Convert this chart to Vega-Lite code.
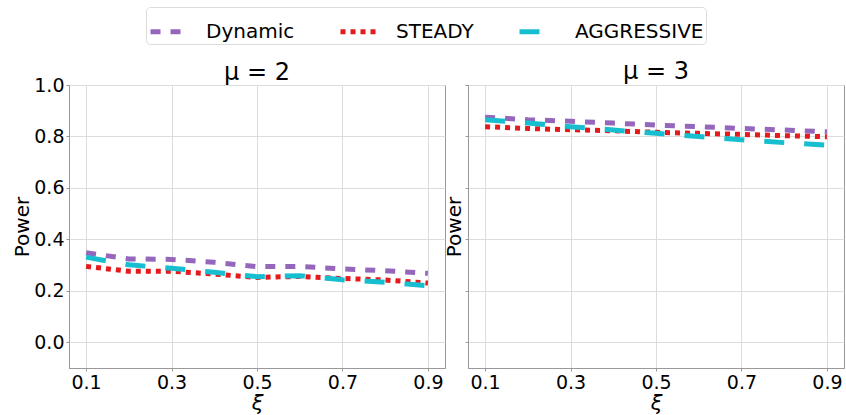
{
  "$schema": "https://vega.github.io/schema/vega-lite/v6.json",
  "padding": {"left": 12, "top": 6, "right": 0, "bottom": 0},
  "background": "white",
  "data": {"values": [
    {"mu": 2, "method": "Dynamic", "xi": 0.1, "power": 0.348},
    {"mu": 2, "method": "Dynamic", "xi": 0.2, "power": 0.324},
    {"mu": 2, "method": "Dynamic", "xi": 0.3, "power": 0.322},
    {"mu": 2, "method": "Dynamic", "xi": 0.4, "power": 0.311},
    {"mu": 2, "method": "Dynamic", "xi": 0.5, "power": 0.294},
    {"mu": 2, "method": "Dynamic", "xi": 0.6, "power": 0.295},
    {"mu": 2, "method": "Dynamic", "xi": 0.7, "power": 0.285},
    {"mu": 2, "method": "Dynamic", "xi": 0.8, "power": 0.278},
    {"mu": 2, "method": "Dynamic", "xi": 0.9, "power": 0.268},
    {"mu": 2, "method": "STEADY", "xi": 0.1, "power": 0.295},
    {"mu": 2, "method": "STEADY", "xi": 0.2, "power": 0.276},
    {"mu": 2, "method": "STEADY", "xi": 0.3, "power": 0.276},
    {"mu": 2, "method": "STEADY", "xi": 0.4, "power": 0.265},
    {"mu": 2, "method": "STEADY", "xi": 0.5, "power": 0.252},
    {"mu": 2, "method": "STEADY", "xi": 0.6, "power": 0.256},
    {"mu": 2, "method": "STEADY", "xi": 0.7, "power": 0.248},
    {"mu": 2, "method": "STEADY", "xi": 0.8, "power": 0.242},
    {"mu": 2, "method": "STEADY", "xi": 0.9, "power": 0.230},
    {"mu": 2, "method": "AGGRESSIVE", "xi": 0.1, "power": 0.331},
    {"mu": 2, "method": "AGGRESSIVE", "xi": 0.2, "power": 0.301},
    {"mu": 2, "method": "AGGRESSIVE", "xi": 0.3, "power": 0.288},
    {"mu": 2, "method": "AGGRESSIVE", "xi": 0.4, "power": 0.272},
    {"mu": 2, "method": "AGGRESSIVE", "xi": 0.5, "power": 0.255},
    {"mu": 2, "method": "AGGRESSIVE", "xi": 0.6, "power": 0.259},
    {"mu": 2, "method": "AGGRESSIVE", "xi": 0.7, "power": 0.243},
    {"mu": 2, "method": "AGGRESSIVE", "xi": 0.8, "power": 0.233},
    {"mu": 2, "method": "AGGRESSIVE", "xi": 0.9, "power": 0.220},
    {"mu": 3, "method": "Dynamic", "xi": 0.1, "power": 0.875},
    {"mu": 3, "method": "Dynamic", "xi": 0.2, "power": 0.865},
    {"mu": 3, "method": "Dynamic", "xi": 0.3, "power": 0.859},
    {"mu": 3, "method": "Dynamic", "xi": 0.4, "power": 0.852},
    {"mu": 3, "method": "Dynamic", "xi": 0.5, "power": 0.844},
    {"mu": 3, "method": "Dynamic", "xi": 0.6, "power": 0.838},
    {"mu": 3, "method": "Dynamic", "xi": 0.7, "power": 0.831},
    {"mu": 3, "method": "Dynamic", "xi": 0.8, "power": 0.825},
    {"mu": 3, "method": "Dynamic", "xi": 0.9, "power": 0.818},
    {"mu": 3, "method": "STEADY", "xi": 0.1, "power": 0.838},
    {"mu": 3, "method": "STEADY", "xi": 0.2, "power": 0.831},
    {"mu": 3, "method": "STEADY", "xi": 0.3, "power": 0.826},
    {"mu": 3, "method": "STEADY", "xi": 0.4, "power": 0.822},
    {"mu": 3, "method": "STEADY", "xi": 0.5, "power": 0.816},
    {"mu": 3, "method": "STEADY", "xi": 0.6, "power": 0.812},
    {"mu": 3, "method": "STEADY", "xi": 0.7, "power": 0.808},
    {"mu": 3, "method": "STEADY", "xi": 0.8, "power": 0.803},
    {"mu": 3, "method": "STEADY", "xi": 0.9, "power": 0.799},
    {"mu": 3, "method": "AGGRESSIVE", "xi": 0.1, "power": 0.865},
    {"mu": 3, "method": "AGGRESSIVE", "xi": 0.2, "power": 0.852},
    {"mu": 3, "method": "AGGRESSIVE", "xi": 0.3, "power": 0.838},
    {"mu": 3, "method": "AGGRESSIVE", "xi": 0.4, "power": 0.825},
    {"mu": 3, "method": "AGGRESSIVE", "xi": 0.5, "power": 0.812},
    {"mu": 3, "method": "AGGRESSIVE", "xi": 0.6, "power": 0.800},
    {"mu": 3, "method": "AGGRESSIVE", "xi": 0.7, "power": 0.787},
    {"mu": 3, "method": "AGGRESSIVE", "xi": 0.8, "power": 0.776},
    {"mu": 3, "method": "AGGRESSIVE", "xi": 0.9, "power": 0.766}
  ]},
  "spacing": 23,
  "bounds": "flush",
  "hconcat": [
    {
      "width": 376, "height": 283,
      "title": {"text": "μ = 2", "offset": -9},
      "transform": [{"filter": "datum.mu == 2"}],
      "mark": {"type": "line", "strokeWidth": 5, "clip": true},
      "encoding": {
        "x": {"field": "xi", "type": "quantitative", "scale": {"domain": [0.06, 0.94], "nice": false, "zero": false},
              "axis": {"values": [0.1, 0.3, 0.5, 0.7, 0.9], "format": ".1f", "title": "ξ"}},
        "y": {"field": "power", "type": "quantitative", "scale": {"domain": [-0.1, 1.0], "nice": false, "zero": false},
              "axis": {"values": [0, 0.2, 0.4, 0.6, 0.8, 1.0], "format": ".1f", "title": "Power"}},
        "color": {"field": "method", "type": "nominal", "title": null,
                  "scale": {"domain": ["Dynamic", "STEADY", "AGGRESSIVE"], "range": ["#9467bd", "#e41a1c", "#17becf"]}},
        "strokeDash": {"field": "method", "type": "nominal", "title": null,
                  "scale": {"domain": ["Dynamic", "STEADY", "AGGRESSIVE"], "range": [[10, 10], [5, 5], [20, 20]]}}
      }
    },
    {
      "width": 376, "height": 283,
      "title": {"text": "μ = 3", "offset": 1},
      "transform": [{"filter": "datum.mu == 3"}],
      "mark": {"type": "line", "strokeWidth": 5, "clip": true},
      "encoding": {
        "x": {"field": "xi", "type": "quantitative", "scale": {"domain": [0.06, 0.94], "nice": false, "zero": false},
              "axis": {"values": [0.1, 0.3, 0.5, 0.7, 0.9], "format": ".1f", "title": "ξ"}},
        "y": {"field": "power", "type": "quantitative", "scale": {"domain": [-0.1, 1.0], "nice": false, "zero": false},
              "axis": {"values": [0, 0.2, 0.4, 0.6, 0.8, 1.0], "labels": false, "title": "Power", "titlePadding": 0}},
        "color": {"field": "method", "type": "nominal", "title": null,
                  "scale": {"domain": ["Dynamic", "STEADY", "AGGRESSIVE"], "range": ["#9467bd", "#e41a1c", "#17becf"]}},
        "strokeDash": {"field": "method", "type": "nominal", "title": null,
                  "scale": {"domain": ["Dynamic", "STEADY", "AGGRESSIVE"], "range": [[10, 10], [5, 5], [20, 20]]}}
      }
    }
  ],
  "config": {
    "font": "DejaVu Sans",
    "view": {"stroke": "#999", "strokeWidth": 1},
    "title": {"fontSize": 24, "fontWeight": "normal", "font": "DejaVu Sans", "color": "black"},
    "axis": {
      "labelFont": "DejaVu Sans", "titleFont": "DejaVu Sans",
      "labelFontSize": 19, "titleFontSize": 20, "titleFontWeight": "normal",
      "labelColor": "black", "titleColor": "black",
      "domainColor": "#999", "tickColor": "#999", "tickSize": 3,
      "gridColor": "#dcdcdc", "labelPadding": 2, "titlePadding": 1
    },
    "axisX": {"titleFontSize": 21, "titleFontStyle": "italic", "titlePadding": 0},
    "legend": {
      "orient": "none", "direction": "horizontal", "legendX": 77, "legendY": -78,
      "symbolType": "stroke", "symbolSize": 1600, "symbolStrokeWidth": 5,
      "labelFontSize": 20, "labelFont": "DejaVu Sans", "labelColor": "black",
      "labelOffset": 13, "columnPadding": 35, "padding": 2,
      "strokeColor": "#dcdcdc", "cornerRadius": 4, "fillColor": "white"
    }
  }
}
